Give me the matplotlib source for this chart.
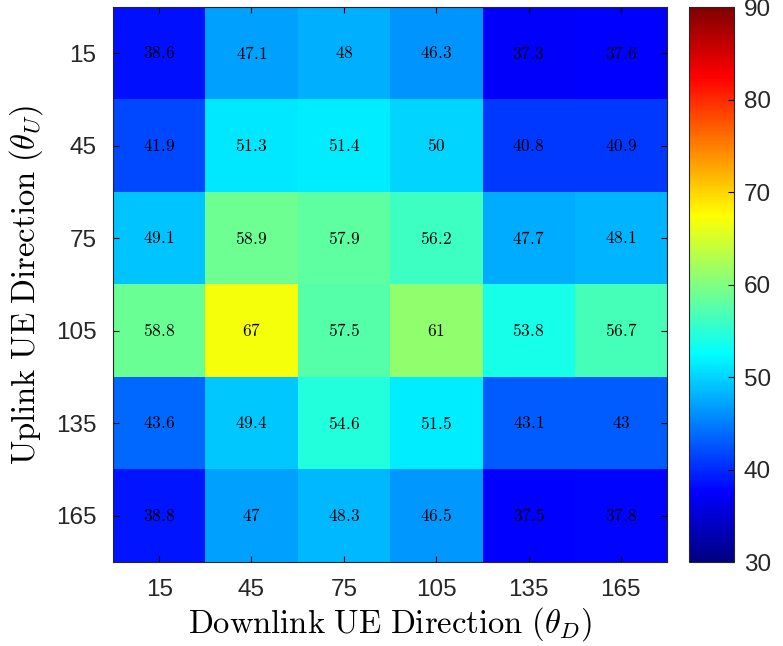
import matplotlib
matplotlib.use("Agg")
import matplotlib.pyplot as plt
import numpy as np
from matplotlib.colors import LinearSegmentedColormap

plt.rcParams['mathtext.fontset'] = 'cm'
plt.rcParams['font.family'] = ['Liberation Sans', 'DejaVu Sans']

downlink = [15, 45, 75, 105, 135, 165]
uplink = [15, 45, 75, 105, 135, 165]
vals = np.array([
    [38.6, 47.1, 48.0, 46.3, 37.3, 37.6],
    [41.9, 51.3, 51.4, 50.0, 40.8, 40.9],
    [49.1, 58.9, 57.9, 56.2, 47.7, 48.1],
    [58.8, 67.0, 57.5, 61.0, 53.8, 56.7],
    [43.6, 49.4, 54.6, 51.5, 43.1, 43.0],
    [38.8, 47.0, 48.3, 46.5, 37.5, 37.8],
])
cell_labels = [
    ["38.6", "47.1", "48", "46.3", "37.3", "37.6"],
    ["41.9", "51.3", "51.4", "50", "40.8", "40.9"],
    ["49.1", "58.9", "57.9", "56.2", "47.7", "48.1"],
    ["58.8", "67", "57.5", "61", "53.8", "56.7"],
    ["43.6", "49.4", "54.6", "51.5", "43.1", "43"],
    ["38.8", "47", "48.3", "46.5", "37.5", "37.8"],
]

# matlab style jet
mjet = LinearSegmentedColormap('mjet', {
    'red':   [(0, 0, 0), (3/8, 0, 0), (5/8, 1, 1), (7/8, 1, 1), (1, 0.5, 0.5)],
    'green': [(0, 0, 0), (1/8, 0, 0), (3/8, 1, 1), (5/8, 1, 1), (7/8, 0, 0), (1, 0, 0)],
    'blue':  [(0, 0.5, 0.5), (1/8, 1, 1), (3/8, 1, 1), (5/8, 0, 0), (1, 0, 0)],
}, N=256)

fig = plt.figure(figsize=(7.83, 6.46), dpi=100)
ax = fig.add_axes([0.1443, 0.1300, 0.7076, 0.8591])
cax = fig.add_axes([0.8800, 0.1300, 0.0575, 0.8591])

im = ax.imshow(vals, cmap=mjet, vmin=30, vmax=90, aspect='auto')
for i in range(len(uplink)):
    for j in range(len(downlink)):
        ax.text(j, i, '$' + cell_labels[i][j] + '$', ha='center', va='center',
                fontsize=12.5, color='black')

ax.set_xticks(range(len(downlink)))
ax.set_xticklabels([str(v) for v in downlink])
ax.set_yticks(range(len(uplink)))
ax.set_yticklabels([str(v) for v in uplink])
ax.tick_params(direction='in', top=True, right=True, labelsize=17.5,
               labelcolor='#262626', length=4, pad=12)
ax.set_xlabel(r'$\mathrm{Downlink\ UE\ Direction\ }(\theta_D)$', fontsize=23.5, labelpad=3)
ax.set_ylabel(r'$\mathrm{Uplink\ UE\ Direction\ }(\theta_U)$', fontsize=23.5, labelpad=8)
for s in ax.spines.values():
    s.set_color('#262626')

cb = fig.colorbar(im, cax=cax, ticks=[30, 40, 50, 60, 70, 80, 90])
cb.ax.tick_params(direction='in', labelsize=17.5, labelcolor='#262626', length=4, pad=7)
cb.outline.set_edgecolor('#262626')

fig.savefig('out.png', dpi=100)
